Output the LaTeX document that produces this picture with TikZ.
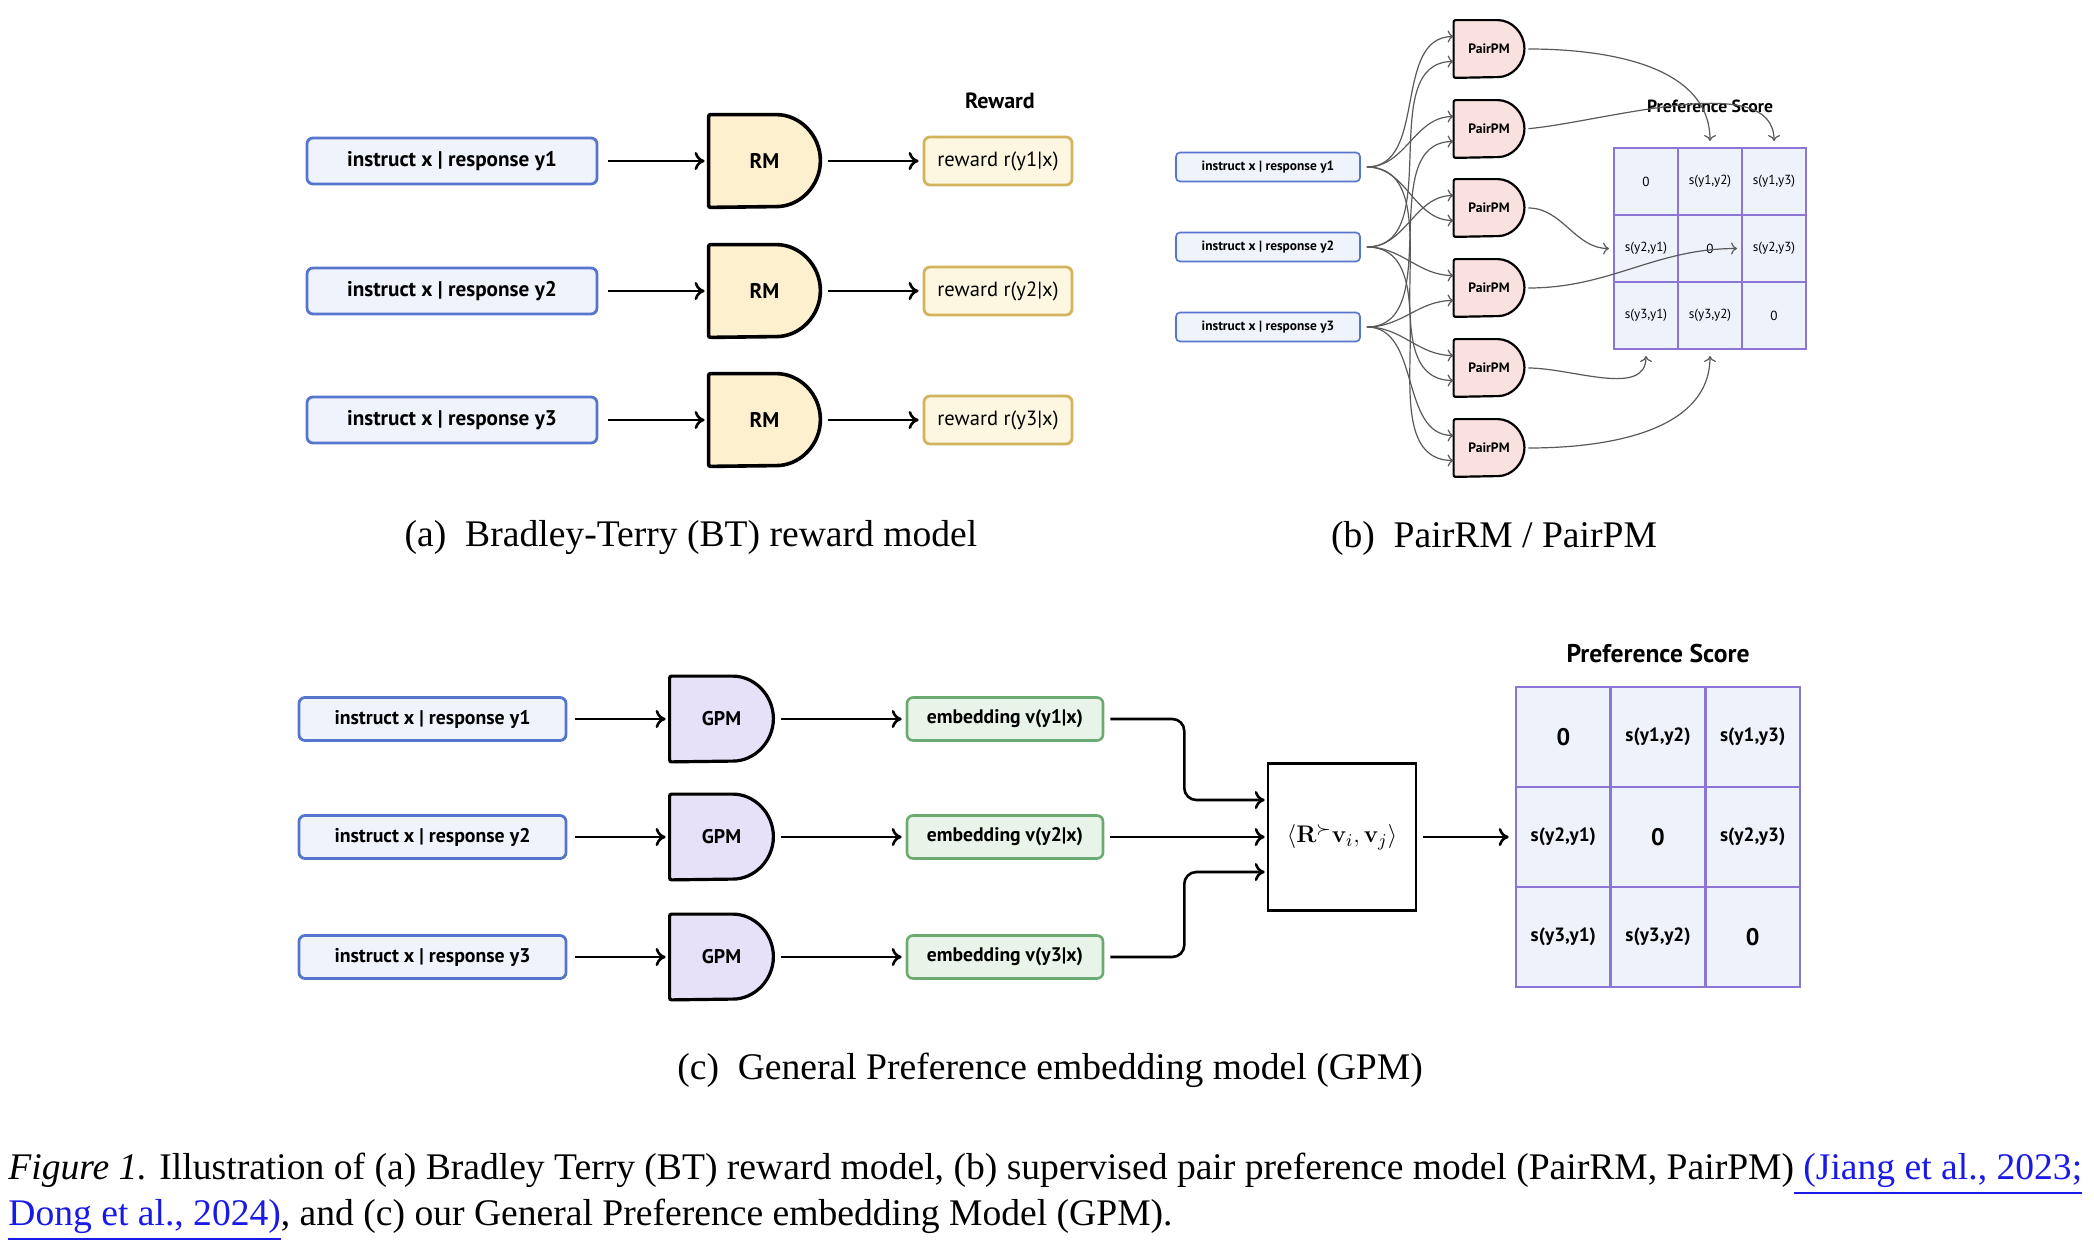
\documentclass[tikz,border=0pt]{standalone}
\usepackage[no-math]{fontspec}
\setmainfont{PT Sans}
\newfontfamily\capfont{Liberation Serif}
\usepackage{amsmath,amssymb}
\usetikzlibrary{arrows.meta,backgrounds,calc}

\definecolor{inblue}{HTML}{EEF3FC}
\definecolor{inblueline}{HTML}{5576CC}
\definecolor{rewfill}{HTML}{FDF7E2}
\definecolor{rewline}{HTML}{D3B45C}
\definecolor{rmfill}{HTML}{FCF0CF}
\definecolor{pmfill}{HTML}{F9E1E0}
\definecolor{gpmfill}{HTML}{E6E1F9}
\definecolor{embfill}{HTML}{E7F4E7}
\definecolor{embline}{HTML}{6BAA70}
\definecolor{matfill}{HTML}{EEF2FB}
\definecolor{matline}{HTML}{8D75D6}
\definecolor{linkblue}{HTML}{1A1AE6}

\tikzset{
  inbox/.style={draw=inblueline,fill=inblue,rounded corners=3pt,line width=1.4pt,font=\bfseries\fontsize{10.6}{12}\selectfont},
  rewbox/.style={draw=rewline,fill=rewfill,rounded corners=3pt,line width=1.4pt,minimum width=74pt,minimum height=24pt,font=\fontsize{10.3}{12}\selectfont},
  embbox/.style={draw=embline,fill=embfill,rounded corners=3pt,line width=1.3pt,minimum width=98pt,minimum height=21.5pt,font=\bfseries\fontsize{9.8}{11}\selectfont},
  gatebox/.style={minimum width=#1,inner sep=0pt,font=\bfseries\fontsize{10.6}{12}\selectfont},
  flow/.style={-{To[length=5pt,width=9pt]},line width=1.3pt},
  thinflow/.style={-{To[length=3pt,width=6pt]},line width=0.6pt,draw=black!65},
  cell/.style={draw=matline,fill=matfill,line width=1pt,inner sep=0pt},
  subcap/.style={font=\capfont\fontsize{18.8}{22}\selectfont},
}
% D-shaped gate behind a named node
\newcommand\gateshape[4]{% name, radius, fill, line width
  \begin{scope}[on background layer]
    \draw[fill=#3,line width=#4,rounded corners=1pt] (#1.north west) -- ([xshift=-#2]#1.north east)
      arc[start angle=90,end angle=-90,radius=#2] -- (#1.south west) -- cycle;
  \end{scope}}

\begin{document}
\begin{tikzpicture}[x=0.5pt,y=-0.5pt]
\useasboundingbox (0,0) rectangle (2094,1242);

% (a) BT reward model
\node[font=\bfseries\fontsize{11}{12}\selectfont] (rwlab) at (1000,101) {Reward};
\foreach \i/\y in {1/161,2/291,3/420}{
  \node[inbox,minimum width=145pt,minimum height=23pt] (a\i) at (452,\y) {instruct x | response y\i};
  \node[gatebox=55.5pt,minimum height=46pt] (rm\i) at (764.5,\y) {RM};
  \gateshape{rm\i}{23pt}{rmfill}{1.8pt}
  \node[rewbox] (r\i) at (998,\y) {reward r(y\i|x)};
  \draw[flow,shorten <=5pt,shorten >=2pt] (a\i) -- (rm\i);
  \draw[flow,shorten <=4pt,shorten >=2pt] (rm\i) -- (r\i);
}
\node[subcap] (capa) at (691,538) {(a)\enspace Bradley-Terry (BT) reward model};

% (b) PairRM / PairPM
\foreach \i/\y in {1/167,2/247,3/327}
  \node[inbox,line width=0.8pt,rounded corners=2pt,minimum width=92pt,minimum height=14.5pt,font=\bfseries\fontsize{6.7}{7}\selectfont] (b\i) at (1268,\y) {instruct x | response y\i};
\foreach \i/\y in {1/49,2/129,3/208,4/288,5/368,6/448}{
  \node[gatebox=35pt,minimum height=28.5pt,font=\bfseries\fontsize{6.8}{7}\selectfont] (p\i) at (1489,\y) {PairPM};
  \gateshape{p\i}{14.25pt}{pmfill}{1.1pt}
}
\node[font=\bfseries\fontsize{8.8}{9}\selectfont] (pslab) at (1710,106) {Preference Score};
\foreach \r/\y in {1/181.5,2/248.5,3/315.5}
  \foreach \c/\x in {1/1646,2/1710,3/1774}
    \node[cell,minimum width=32pt,minimum height=33.5pt] (q-\r-\c) at (\x,\y) {};
\foreach \r/\c/\t in {1/1/0,1/2/{s(y1,y2)},1/3/{s(y1,y3)},2/1/{s(y2,y1)},2/2/0,2/3/{s(y2,y3)},3/1/{s(y3,y1)},3/2/{s(y3,y2)},3/3/0}
  \node[font=\fontsize{6.6}{7}\selectfont] at (q-\r-\c) {\t};
\foreach \p/\u/\v in {1/1/2,2/1/3,3/2/1,4/2/3,5/3/1,6/3/2}{
  \draw[thinflow] ([xshift=3pt]b\u.east) to[out=0,in=180] ([yshift=6.25pt]p\p.west);
  \draw[thinflow] ([xshift=3pt]b\v.east) to[out=0,in=180] ([yshift=-6.25pt]p\p.west);
}
\draw[thinflow,shorten <=2pt,shorten >=3pt] (p1.east) to[out=0,in=90] (q-1-2.north);
\draw[thinflow,shorten <=2pt,shorten >=3pt] (p2.east) to[out=5,in=90,looseness=0.8] (q-1-3.north);
\draw[thinflow,shorten <=2pt,shorten >=2pt] (p3.east) to[out=0,in=180] (q-2-1.west);
\draw[thinflow,shorten <=2pt,shorten >=2pt] (p4.east) to[out=0,in=180] (q-2-3.west);
\draw[thinflow,shorten <=2pt,shorten >=3pt] (p5.east) to[out=0,in=-90] (q-3-1.south);
\draw[thinflow,shorten <=2pt,shorten >=3pt] (p6.east) to[out=0,in=-90] (q-3-2.south);
\node[subcap] (capb) at (1494,538) {(b)\enspace PairRM / PairPM};

% (c) GPM
\foreach \i/\y in {1/719,2/837,3/957}{
  \node[inbox,minimum width=133.5pt,minimum height=21.5pt,font=\bfseries\fontsize{9.9}{11}\selectfont] (c\i) at (432.5,\y) {instruct x | response y\i};
  \node[gatebox=51.5pt,minimum height=42.5pt,font=\bfseries\fontsize{9.9}{11}\selectfont] (g\i) at (721.5,\y) {GPM};
  \gateshape{g\i}{21.25pt}{gpmfill}{1.6pt}
  \node[embbox] (e\i) at (1005,\y) {embedding v(y\i|x)};
  \draw[flow,shorten <=4pt,shorten >=2pt] (c\i) -- (g\i);
  \draw[flow,shorten <=4pt,shorten >=2pt] (g\i) -- (e\i);
}
\node[draw,line width=1.3pt,minimum width=74pt,minimum height=73.5pt,font=\fontsize{13}{15}\selectfont] (ip) at (1342,837) {$\langle \mathbf{R}^{\succ}\mathbf{v}_i,\mathbf{v}_j\rangle$};
\draw[flow,rounded corners=6pt,shorten <=3pt,shorten >=1pt] (e1.east) -- ++(80,0) |- ([yshift=18.5pt]ip.west);
\draw[flow,shorten <=3pt,shorten >=1pt] (e2.east) -- (ip.west);
\draw[flow,rounded corners=6pt,shorten <=3pt,shorten >=1pt] (e3.east) -- ++(80,0) |- ([yshift=-17.5pt]ip.west);
\node[font=\bfseries\fontsize{12.8}{14}\selectfont] (pslab2) at (1658,654) {Preference Score};
\foreach \r/\y in {1/737,2/837,3/937}
  \foreach \c/\x in {1/1563.3,2/1658,3/1752.7}
    \node[cell,line width=1.3pt,minimum width=47.3pt,minimum height=50pt] (m-\r-\c) at (\x,\y) {};
\foreach \r/\c/\t in {1/1/{\fontsize{12}{13}\selectfont 0},1/2/{s(y1,y2)},1/3/{s(y1,y3)},2/1/{s(y2,y1)},2/2/{\fontsize{12}{13}\selectfont 0},2/3/{s(y2,y3)},3/1/{s(y3,y1)},3/2/{s(y3,y2)},3/3/{\fontsize{12}{13}\selectfont 0}}
  \node[font=\bfseries\fontsize{9.6}{11}\selectfont] at (m-\r-\c) {\t};
\draw[flow,shorten <=3pt,shorten >=3pt] (ip.east) -- (m-2-1.west);
\node[subcap] (capc) at (1050,1070) {(c)\enspace General Preference embedding model (GPM)};

% figure caption
\node[subcap,anchor=west,inner sep=0pt] (fig1) at (8,1174) {\textit{Figure 1.} Illustration of (a) Bradley Terry (BT) reward model, (b) supervised pair preference model (PairRM, PairPM)\textcolor{linkblue}{\underline{ (Jiang et al., 2023;}}};
\node[subcap,anchor=west,inner sep=0pt] (fig2) at (8,1220) {\textcolor{linkblue}{\underline{Dong et al., 2024)}}, and (c) our General Preference embedding Model (GPM).};
\end{tikzpicture}
\end{document}
